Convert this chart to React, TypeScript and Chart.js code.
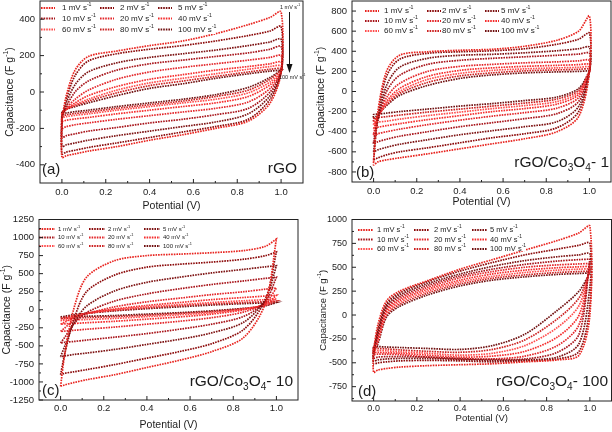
import React, { useEffect, useRef } from "react";
import { Chart, registerables } from "chart.js";
Chart.register(...registerables);

// ---------- shared data ----------
const POTENTIAL = [0, 0.02, 0.06, 0.12, 0.25, 0.4, 0.55, 0.7, 0.85, 0.95, 1.0];
const SCAN_RATES = [1, 2, 5, 10, 20, 40, 60, 80, 100];
const RATE_COLORS = ["#e8241f", "#8b0a0a", "#7d1212", "#a8141a", "#e3262a", "#f52d2d", "#ff4d4d", "#cc2222", "#701010"];
const X_TICKS = [0, 0.2, 0.4, 0.6, 0.8, 1.0];

// ---------- (a) rGO ----------
const RGO_ANODIC = [
  [-150, -20, 120, 195, 225, 255, 280, 320, 370, 410, 440],
  [-150, -40, 90, 170, 210, 235, 255, 280, 310, 335, 360],
  [-140, -60, 40, 110, 160, 190, 210, 230, 255, 275, 290],
  [-135, -80, 0, 60, 120, 155, 175, 195, 215, 235, 250],
  [-130, -90, -40, 10, 70, 110, 135, 155, 175, 190, 200],
  [-125, -95, -60, -20, 30, 70, 95, 120, 140, 155, 165],
  [-120, -95, -70, -40, 10, 50, 75, 100, 125, 140, 145],
  [-115, -95, -75, -50, -5, 35, 60, 85, 110, 125, 130],
  [-110, -95, -80, -60, -20, 20, 45, 75, 100, 115, 120],
];
const RGO_CATHODIC = [
  [-360, -350, -340, -325, -300, -265, -235, -200, -160, -60, 110],
  [-340, -330, -320, -305, -280, -250, -220, -190, -150, -40, 110],
  [-300, -290, -280, -265, -240, -215, -190, -165, -120, -20, 110],
  [-250, -240, -230, -215, -195, -170, -150, -125, -90, 0, 110],
  [-200, -190, -180, -170, -150, -130, -110, -90, -55, 20, 110],
  [-160, -155, -148, -140, -120, -100, -80, -60, -25, 40, 110],
  [-140, -135, -128, -120, -100, -80, -60, -40, -5, 55, 115],
  [-130, -125, -118, -110, -90, -70, -50, -25, 10, 70, 120],
  [-120, -115, -108, -100, -80, -60, -40, -15, 25, 80, 120],
];
const RGO_Y_TICKS = [-400, -200, 0, 200, 400];

// ---------- (b) rGO/Co3O4-1 ----------
const CO1_ANODIC = [
  [-700, -200, 200, 360, 395, 410, 420, 450, 510, 600, 750],
  [-680, -250, 150, 320, 380, 395, 405, 425, 470, 520, 580],
  [-600, -280, 60, 240, 330, 360, 370, 385, 405, 425, 440],
  [-500, -280, 0, 160, 270, 310, 330, 345, 360, 372, 380],
  [-420, -270, -60, 80, 200, 250, 270, 285, 295, 305, 310],
  [-370, -260, -100, 30, 150, 210, 235, 250, 260, 267, 270],
  [-330, -250, -120, 0, 120, 180, 210, 225, 235, 240, 245],
  [-300, -240, -130, -20, 90, 155, 185, 205, 215, 220, 225],
  [-270, -230, -140, -40, 60, 130, 165, 185, 195, 200, 205],
];
const CO1_CATHODIC = [
  [-730, -700, -680, -660, -620, -570, -520, -470, -400, -250, 200],
  [-680, -660, -630, -600, -560, -510, -460, -420, -360, -200, 200],
  [-600, -580, -555, -525, -480, -430, -390, -350, -300, -150, 200],
  [-520, -500, -475, -445, -400, -350, -310, -270, -220, -100, 200],
  [-440, -420, -400, -375, -330, -285, -245, -210, -165, -60, 200],
  [-370, -355, -340, -320, -280, -240, -200, -170, -125, -30, 200],
  [-320, -305, -295, -275, -240, -205, -170, -140, -100, -10, 200],
  [-270, -260, -250, -235, -205, -175, -145, -115, -75, 10, 200],
  [-230, -225, -215, -200, -175, -145, -120, -90, -55, 30, 200],
];
const CO1_Y_TICKS = [-800, -600, -400, -200, 0, 200, 400, 600, 800];

// ---------- (c) rGO/Co3O4-10 ----------
const CO10_ANODIC = [
  [-1060, -600, 0, 450, 680, 750, 770, 790, 820, 880, 980],
  [-900, -600, -150, 250, 480, 590, 630, 660, 700, 750, 800],
  [-650, -500, -200, 50, 260, 380, 450, 510, 560, 595, 610],
  [-460, -380, -200, -40, 120, 220, 290, 350, 400, 435, 450],
  [-300, -250, -150, -60, 40, 110, 160, 210, 250, 285, 300],
  [-200, -170, -110, -50, 10, 60, 100, 140, 170, 190, 200],
  [-150, -130, -90, -50, 0, 40, 70, 100, 125, 140, 150],
  [-120, -105, -80, -50, -10, 25, 55, 80, 100, 112, 120],
  [-100, -90, -70, -50, -15, 15, 40, 65, 85, 95, 100],
];
const CO10_CATHODIC = [
  [-1060, -1040, -1010, -970, -900, -800, -700, -580, -380, 100, 980],
  [-900, -880, -860, -830, -760, -670, -580, -470, -270, 150, 800],
  [-650, -640, -620, -600, -550, -480, -410, -320, -170, 150, 610],
  [-460, -450, -440, -420, -380, -330, -270, -200, -90, 120, 450],
  [-300, -295, -285, -270, -240, -200, -160, -110, -30, 100, 300],
  [-200, -195, -190, -180, -160, -130, -100, -60, 0, 80, 200],
  [-150, -145, -140, -135, -120, -95, -70, -40, 10, 70, 150],
  [-120, -117, -113, -108, -95, -75, -50, -25, 15, 60, 120],
  [-100, -97, -94, -90, -80, -60, -40, -15, 20, 55, 100],
];
const CO10_Y_TICKS = [-1250, -1000, -750, -500, -250, 0, 250, 500, 750, 1000, 1250];

// ---------- (d) rGO/Co3O4-100 ----------
const CO100_ANODIC = [
  [-360, -100, 150, 250, 360, 480, 580, 680, 780, 860, 930],
  [-370, -150, 120, 230, 350, 460, 550, 630, 690, 730, 750],
  [-380, -180, 100, 210, 330, 430, 510, 570, 610, 630, 640],
  [-380, -200, 80, 190, 310, 410, 480, 530, 565, 580, 585],
  [-385, -220, 60, 170, 290, 390, 455, 500, 525, 535, 540],
  [-385, -240, 40, 150, 270, 365, 430, 470, 495, 505, 510],
  [-390, -260, 20, 130, 250, 345, 405, 445, 470, 480, 485],
  [-390, -280, 0, 110, 230, 325, 385, 420, 445, 455, 460],
  [-390, -300, -20, 90, 210, 305, 365, 400, 425, 435, 440],
];
const CO100_CATHODIC = [
  [-600, -575, -560, -545, -530, -520, -510, -490, -470, -420, 0],
  [-510, -500, -490, -480, -475, -480, -490, -480, -460, -380, 100],
  [-480, -470, -460, -455, -455, -465, -475, -470, -440, -300, 300],
  [-450, -440, -435, -435, -440, -455, -465, -460, -390, -200, 585],
  [-410, -410, -410, -415, -440, -460, -460, -430, -320, -100, 540],
  [-390, -390, -395, -400, -420, -440, -430, -380, -230, 0, 510],
  [-370, -370, -375, -385, -400, -420, -400, -320, -130, 100, 485],
  [-350, -350, -355, -365, -380, -390, -360, -260, -40, 180, 460],
  [-330, -330, -335, -340, -350, -360, -320, -200, 50, 250, 440],
];
const CO100_Y_TICKS = [-750, -500, -250, 0, 250, 500, 750, 1000];

const FONT = "Arial, 'Liberation Sans', Helvetica, sans-serif";
const TEXT_COLOR = "#1c1c1c";

type Part = { t: string; s?: "sup" | "sub" };

function richWidth(ctx: CanvasRenderingContext2D, parts: Part[], size: number) {
  let w = 0;
  for (const p of parts) {
    ctx.font = `${p.s ? size * 0.65 : size}px ${FONT}`;
    w += ctx.measureText(p.t).width;
  }
  return w;
}

function drawRich(ctx: CanvasRenderingContext2D, parts: Part[], x: number, y: number, size: number, align: "left" | "right" | "center") {
  const w = richWidth(ctx, parts, size);
  let cx = align === "left" ? x : align === "right" ? x - w : x - w / 2;
  ctx.textAlign = "left";
  ctx.fillStyle = TEXT_COLOR;
  for (const p of parts) {
    const fs = p.s ? size * 0.65 : size;
    ctx.font = `${fs}px ${FONT}`;
    const dy = p.s === "sup" ? -size * 0.38 : p.s === "sub" ? size * 0.28 : 0;
    ctx.fillText(p.t, cx, y + dy);
    cx += ctx.measureText(p.t).width;
  }
}

function loop(up: number[], low: number[]) {
  const pts = POTENTIAL.map((x, i) => ({ x, y: up[i] }));
  for (let i = POTENTIAL.length - 1; i >= 0; i--) pts.push({ x: POTENTIAL[i], y: low[i] });
  pts.push({ x: POTENTIAL[0], y: up[0] });
  return pts;
}

function minorTicks(major: number[], min: number, max: number) {
  const out: number[] = [];
  const step = major[1] - major[0];
  const all = [major[0] - step, ...major, major[major.length - 1] + step];
  for (let i = 0; i < all.length - 1; i++) {
    const m = (all[i] + all[i + 1]) / 2;
    if (m > min && m < max) out.push(m);
  }
  return out;
}

type PanelCfg = {
  left: number; top: number;
  yMin: number; yMax: number; yTicks: number[];
  anodic: number[][]; cathodic: number[][];
  yw: number; xh: number; padT: number; padR: number; xPad: number; tickFont: number;
  legRows: number[]; legSampleX: number[]; legLen: number; legTextX: number[]; legFont: number;
  legBox: [number, number, number, number];
  letter: string; letterX: number; letterY: number;
  name: Part[]; nameX: number; nameY: number;
  yTitleX: number; xTitleY: number; titleFont: number;
  arrow?: boolean;
};

const PANELS: PanelCfg[] = [
  {
    left: 0, top: 0, yMin: -500, yMax: 500, yTicks: RGO_Y_TICKS,
    anodic: RGO_ANODIC, cathodic: RGO_CATHODIC,
    yw: 40, xh: 33, padT: 1, padR: 3, xPad: 4, tickFont: 9.5,
    legRows: [8, 18.5, 29.5], legSampleX: [41, 100, 158], legLen: 14, legTextX: [62, 120, 178], legFont: 8,
    legBox: [40.5, 1.5, 215, 34],
    letter: "(a)", letterX: 42, letterY: 174,
    name: [{ t: "rGO" }], nameX: 297, nameY: 173,
    yTitleX: 10, xTitleY: 206, titleFont: 10.5, arrow: true,
  },
  {
    left: 306, top: 0, yMin: -900, yMax: 900, yTicks: CO1_Y_TICKS,
    anodic: CO1_ANODIC, cathodic: CO1_CATHODIC,
    yw: 46, xh: 34, padT: 1, padR: 1, xPad: 4, tickFont: 9.5,
    legRows: [11, 21, 31], legSampleX: [59, 121, 179], legLen: 14, legTextX: [78, 136, 195], legFont: 8,
    legBox: [46.5, 1.5, 240, 37],
    letter: "(b)", letterX: 50, letterY: 177,
    name: [{ t: "rGO/Co" }, { t: "3", s: "sub" }, { t: "O" }, { t: "4", s: "sub" }, { t: "- 1" }], nameX: 303, nameY: 167,
    yTitleX: 15, xTitleY: 202, titleFont: 10.5,
  },
  {
    left: 0, top: 216, yMin: -1250, yMax: 1250, yTicks: CO10_Y_TICKS,
    anodic: CO10_ANODIC, cathodic: CO10_CATHODIC,
    yw: 39, xh: 32, padT: 3.5, padR: 8, xPad: 3, tickFont: 9.5,
    legRows: [13, 21.5, 30], legSampleX: [39, 89, 144], legLen: 16, legTextX: [58, 108, 163], legFont: 6,
    legBox: [39.5, 4, 190, 33],
    letter: "(c)", letterX: 42, letterY: 179,
    name: [{ t: "rGO/Co" }, { t: "3", s: "sub" }, { t: "O" }, { t: "4", s: "sub" }, { t: "- 10" }], nameX: 293, nameY: 170,
    yTitleX: 7, xTitleY: 209, titleFont: 10.5,
  },
  {
    left: 306, top: 216, yMin: -900, yMax: 1000, yTicks: CO100_Y_TICKS,
    anodic: CO100_ANODIC, cathodic: CO100_CATHODIC,
    yw: 46, xh: 31, padT: 3.5, padR: 0.5, xPad: 2, tickFont: 9,
    legRows: [14, 23.5, 33], legSampleX: [52, 108, 166], legLen: 15, legTextX: [71, 128, 184], legFont: 7.5,
    legBox: [46.5, 4, 220, 35],
    letter: "(d)", letterX: 52, letterY: 180,
    name: [{ t: "rGO/Co" }, { t: "3", s: "sub" }, { t: "O" }, { t: "4", s: "sub" }, { t: "- 100" }], nameX: 302, nameY: 170,
    yTitleX: 17, xTitleY: 202, titleFont: 9.5,
  },
];

function Panel({ cfg }: { cfg: PanelCfg }) {
  const ref = useRef<HTMLCanvasElement>(null);
  useEffect(() => {
    const yMinor = minorTicks(cfg.yTicks, cfg.yMin, cfg.yMax);
    const xMinor = minorTicks(X_TICKS, -0.1, 1.1);
    const deco = {
      id: "deco",
      afterDatasetsDraw(chart: any) {
        const ctx = chart.ctx as CanvasRenderingContext2D;
        const a = chart.chartArea;
        const xs = chart.scales.x, ys = chart.scales.y;
        ctx.save();
        const [bx0, by0, bx1, by1] = cfg.legBox;
        ctx.fillStyle = "#ffffff";
        ctx.fillRect(bx0, by0, bx1 - bx0, by1 - by0);
        SCAN_RATES.forEach((r, i) => {
          const row = Math.floor(i / 3), col = i % 3;
          const y = cfg.legRows[row];
          ctx.strokeStyle = RATE_COLORS[i];
          ctx.lineWidth = 1.8;
          ctx.setLineDash([1.6, 1]);
          ctx.beginPath();
          ctx.moveTo(cfg.legSampleX[col], y);
          ctx.lineTo(cfg.legSampleX[col] + cfg.legLen, y);
          ctx.stroke();
          ctx.setLineDash([]);
          ctx.textBaseline = "middle";
          drawRich(ctx, [{ t: `${r} mV s` }, { t: "-1", s: "sup" }], cfg.legTextX[col], y, cfg.legFont, "left");
        });
        ctx.strokeStyle = "#222";
        ctx.lineWidth = 1;
        ctx.strokeRect(a.left, a.top, a.right - a.left, a.bottom - a.top);
        ctx.beginPath();
        X_TICKS.forEach(v => { const px = xs.getPixelForValue(v); ctx.moveTo(px, a.bottom); ctx.lineTo(px, a.bottom - 4); });
        xMinor.forEach(v => { const px = xs.getPixelForValue(v); ctx.moveTo(px, a.bottom); ctx.lineTo(px, a.bottom - 2); });
        cfg.yTicks.forEach(v => { const py = ys.getPixelForValue(v); ctx.moveTo(a.left, py); ctx.lineTo(a.left + 4, py); });
        yMinor.forEach(v => { const py = ys.getPixelForValue(v); ctx.moveTo(a.left, py); ctx.lineTo(a.left + 2, py); });
        ctx.stroke();
        ctx.textBaseline = "alphabetic";
        drawRich(ctx, [{ t: cfg.letter }], cfg.letterX, cfg.letterY, 15, "left");
        drawRich(ctx, cfg.name, cfg.nameX, cfg.nameY, 15.5, "right");
        ctx.textBaseline = "middle";
        drawRich(ctx, [{ t: "Potential (V)" }], (a.left + a.right) / 2, cfg.xTitleY, cfg.titleFont, "center");
        ctx.save();
        ctx.translate(cfg.yTitleX, (a.top + a.bottom) / 2);
        ctx.rotate(-Math.PI / 2);
        drawRich(ctx, [{ t: "Capacitance (F g" }, { t: "-1", s: "sup" }, { t: ")" }], 0, 0, cfg.titleFont, "center");
        ctx.restore();
        if (cfg.arrow) {
          drawRich(ctx, [{ t: "1 mV s" }, { t: "-1", s: "sup" }], 280, 7, 5.5, "left");
          ctx.strokeStyle = "#111";
          ctx.lineWidth = 1;
          ctx.beginPath();
          ctx.moveTo(289.5, 12);
          ctx.lineTo(289.5, 66);
          ctx.stroke();
          ctx.fillStyle = "#111";
          ctx.beginPath();
          ctx.moveTo(286.5, 64);
          ctx.lineTo(292.5, 64);
          ctx.lineTo(289.5, 73);
          ctx.closePath();
          ctx.fill();
          drawRich(ctx, [{ t: "100 mV s" }, { t: "-1", s: "sup" }], 279, 77, 5.5, "left");
        }
        ctx.restore();
      },
    };
    const chart = new Chart(ref.current!, {
      type: "scatter",
      data: {
        datasets: SCAN_RATES.map((r, i) => ({
          label: `${r} mV s-1`,
          data: loop(cfg.anodic[i], cfg.cathodic[i]),
          showLine: true,
          borderColor: RATE_COLORS[i],
          backgroundColor: RATE_COLORS[i],
          borderWidth: 1.7,
          borderDash: [1.6, 1],
          pointRadius: 0,
          tension: 0.3,
          fill: false,
        })),
      },
      options: {
        responsive: false,
        animation: false,
        devicePixelRatio: 1,
        layout: { padding: { top: cfg.padT, right: cfg.padR, left: 0, bottom: 0 } },
        plugins: { legend: { display: false }, tooltip: { enabled: false } },
        scales: {
          x: {
            type: "linear", min: -0.1, max: 1.1,
            afterBuildTicks: (s: any) => { s.ticks = X_TICKS.map(v => ({ value: v })); },
            afterFit: (s: any) => { s.height = cfg.xh; s.paddingLeft = 0; s.paddingRight = 0; s.paddingTop = 0; s.paddingBottom = 0; },
            grid: { display: false, drawTicks: false },
            border: { display: false },
            ticks: { padding: cfg.xPad, color: TEXT_COLOR, font: { family: FONT, size: cfg.tickFont }, maxRotation: 0, autoSkip: false, callback: (v: any) => Number(v).toFixed(1) },
          },
          y: {
            type: "linear", min: cfg.yMin, max: cfg.yMax,
            afterBuildTicks: (s: any) => { s.ticks = cfg.yTicks.map(v => ({ value: v })); },
            afterFit: (s: any) => { s.width = cfg.yw; s.paddingTop = 0; s.paddingBottom = 0; s.paddingLeft = 0; s.paddingRight = 0; },
            grid: { display: false, drawTicks: false },
            border: { display: false },
            ticks: { padding: 5, color: TEXT_COLOR, font: { family: FONT, size: cfg.tickFont }, autoSkip: false, callback: (v: any) => String(v) },
          },
        },
      } as any,
      plugins: [deco],
    });
    return () => chart.destroy();
  }, []);
  return (
    <canvas
      ref={ref}
      width={306}
      height={216}
      style={{ position: "absolute", left: cfg.left, top: cfg.top, width: 306, height: 216 }}
    />
  );
}

export default function App() {
  return (
    <div style={{ position: "fixed", left: 0, top: 0, width: 612, height: 432, background: "#fff", overflow: "hidden" }}>
      {PANELS.map((p, i) => <Panel key={i} cfg={p} />)}
    </div>
  );
}
